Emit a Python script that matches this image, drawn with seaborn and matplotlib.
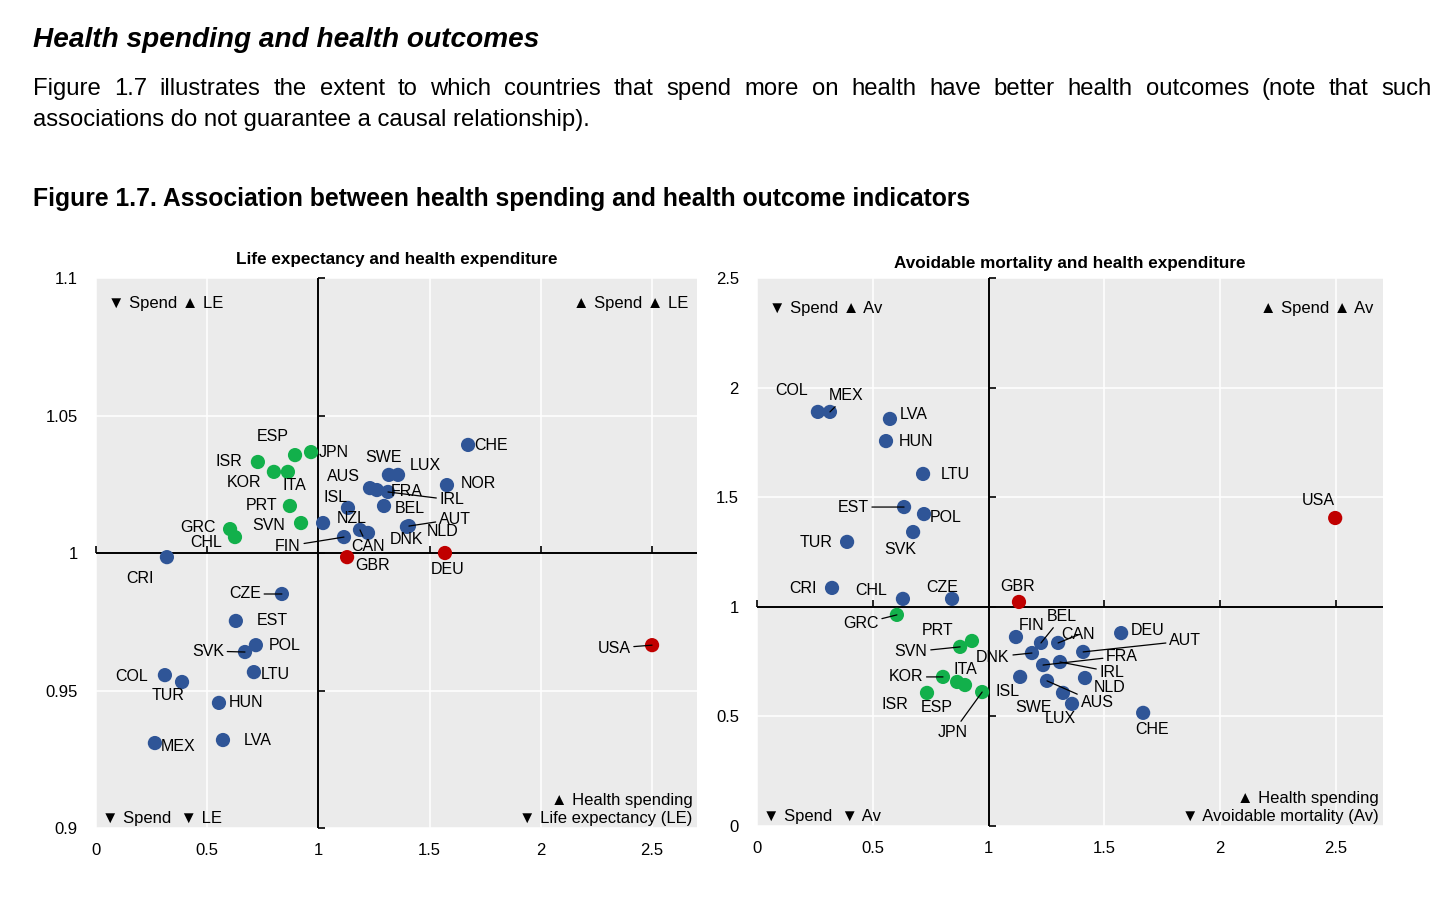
import numpy as np
import pandas as pd
import matplotlib.pyplot as plt
import seaborn as sns

# ---- data (index, OECD average = 1) ----

# panel 1: life expectancy vs health spending
le_country = ["ESP", "JPN", "ISR", "KOR", "ITA", "PRT", "SVN", "GRC", "CHL",
              "CHE", "SWE", "LUX", "NOR", "AUS", "FRA", "IRL", "ISL", "BEL",
              "NZL", "FIN", "CAN", "DNK", "AUT", "NLD", "GBR", "DEU", "CRI",
              "CZE", "EST", "POL", "SVK", "LTU", "COL", "TUR", "HUN", "LVA",
              "MEX", "USA"]
le_spend = [0.895, 0.967, 0.728, 0.800, 0.863, 0.872, 0.922, 0.603, 0.625,
            1.673, 1.317, 1.358, 1.578, 1.232, 1.263, 1.313, 1.133, 1.295,
            1.021, 1.115, 1.187, 1.223, 1.407, 1.398, 1.129, 1.569, 0.319,
            0.836, 0.629, 0.719, 0.670, 0.710, 0.310, 0.387, 0.553, 0.571,
            0.265, 2.500]
le_value = [1.0356, 1.0367, 1.0331, 1.0295, 1.0295, 1.0171, 1.0109, 1.0087,
            1.0058, 1.0393, 1.0284, 1.0284, 1.0247, 1.0236, 1.0229, 1.0222,
            1.0164, 1.0171, 1.0109, 1.0058, 1.0084, 1.0073, 1.0098, 1.0095,
            0.9985, 1.0000, 0.9985, 0.9851, 0.9753, 0.9665, 0.9640, 0.9567,
            0.9556, 0.9531, 0.9455, 0.9320, 0.9309, 0.9665]
le_group = ["good"] * 9 + ["base"] * 15 + ["key", "key"] + ["base"] * 11 + ["key"]

# panel 2: avoidable mortality vs health spending
av_country = ["COL", "MEX", "LVA", "HUN", "LTU", "EST", "POL", "SVK", "TUR",
              "CRI", "CHL", "CZE", "GBR", "USA", "GRC", "PRT", "SVN", "KOR",
              "ITA", "ESP", "ISR", "JPN", "FIN", "BEL", "CAN", "DEU", "DNK",
              "AUT", "IRL", "FRA", "NLD", "ISL", "AUS", "SWE", "LUX", "CHE"]
av_spend = [0.263, 0.315, 0.574, 0.557, 0.717, 0.635, 0.721, 0.674, 0.389,
            0.324, 0.630, 0.842, 1.131, 2.496, 0.604, 0.928, 0.877, 0.803,
            0.864, 0.898, 0.734, 0.972, 1.118, 1.226, 1.300, 1.572, 1.187,
            1.408, 1.308, 1.235, 1.416, 1.136, 1.252, 1.321, 1.360, 1.667]
av_value = [1.889, 1.889, 1.857, 1.756, 1.606, 1.455, 1.423, 1.341, 1.296,
            1.086, 1.036, 1.036, 1.022, 1.405, 0.963, 0.844, 0.817, 0.680,
            0.657, 0.643, 0.607, 0.611, 0.862, 0.835, 0.835, 0.880, 0.789,
            0.794, 0.748, 0.734, 0.675, 0.680, 0.662, 0.607, 0.557, 0.516]
av_group = ["base"] * 12 + ["key", "key"] + ["good"] * 8 + ["base"] * 14

x_ticks = [0, 0.5, 1, 1.5, 2, 2.5]
le_ticks = [0.9, 0.95, 1, 1.05, 1.1]
av_ticks = [0, 0.5, 1, 1.5, 2, 2.5]

# label placement (pixel offsets from the point) and which labels get a leader line
le_offsets = {"ESP": (-22, 19), "JPN": (23, 0), "ISR": (-29, 0), "KOR": (-30, -11),
              "ITA": (6, -14), "PRT": (-28, 0), "SVN": (-32, -2), "GRC": (-32, 2),
              "CHL": (-29, -5), "CHE": (23, -1), "SWE": (-5, 17), "LUX": (27, 9),
              "NOR": (31, 2), "AUS": (-27, 12), "FRA": (30, -1), "IRL": (64, -8),
              "ISL": (-12, 10), "BEL": (26, -3), "NZL": (29, 5), "FIN": (-56, -9),
              "CAN": (8, -17), "DNK": (39, -7), "AUT": (46, 7), "NLD": (36, -5),
              "GBR": (25, -8), "DEU": (3, -16), "CRI": (-27, -21), "CZE": (-37, 0),
              "EST": (36, 0), "POL": (29, 0), "SVK": (-37, 1), "LTU": (21, -2),
              "COL": (-33, -1), "TUR": (-14, -13), "HUN": (27, 0), "LVA": (35, 0),
              "MEX": (23, -3), "USA": (-38, -3)}
le_leaders = ["IRL", "FIN", "CAN", "AUT", "CZE", "SVK", "USA"]

av_offsets = {"COL": (-26, 21), "MEX": (16, 16), "LVA": (24, 4), "HUN": (30, 0),
              "LTU": (32, -1), "EST": (-51, 0), "POL": (22, -3), "SVK": (-13, -17),
              "TUR": (-31, -1), "CRI": (-29, -1), "CHL": (-32, 8), "CZE": (-10, 11),
              "GBR": (-1, 15), "USA": (-17, 18), "GRC": (-36, -9), "PRT": (-34, 10),
              "SVN": (-49, -5), "KOR": (-37, 0), "ITA": (8, 12), "ESP": (-28, -22),
              "ISR": (-32, -12), "JPN": (-29, -40), "FIN": (16, 12), "BEL": (21, 26),
              "CAN": (20, 8), "DEU": (26, 3), "DNK": (-39, -4), "AUT": (102, 11),
              "IRL": (52, -10), "FRA": (79, 9), "NLD": (25, -9), "ISL": (-13, -15),
              "AUS": (50, -22), "SWE": (-29, -15), "LUX": (-12, -15), "CHE": (9, -17)}
av_leaders = ["MEX", "EST", "GRC", "SVN", "KOR", "JPN", "BEL", "CAN", "DNK",
              "AUT", "IRL", "FRA", "AUS"]

palette = {"base": "#2F5597", "good": "#12B04B", "key": "#C00000"}

sns.set_theme(style="darkgrid", rc={"axes.facecolor": "#EBEBEB",
                                    "grid.color": "white", "grid.linewidth": 1.1,
                                    "text.color": "black", "xtick.color": "black",
                                    "ytick.color": "black", "axes.labelcolor": "black"})
NARROW = ["Liberation Sans Narrow", "Liberation Sans", "DejaVu Sans"]
ARIAL = ["Liberation Sans", "DejaVu Sans"]
plt.rcParams["font.family"] = NARROW

fig = plt.figure(figsize=(14.56, 9.02), dpi=100)
ax1 = fig.add_axes([0.0659, 0.0820, 0.4128, 0.6098])
ax2 = fig.add_axes([0.5199, 0.0843, 0.4299, 0.6075])


def draw_panel(ax, df, yticks, ylim, ylabels, offsets, leaders, title, title_pad,
               top_y, corners):
    ax.set_xlim(0, 2.702)
    ax.set_ylim(*ylim)
    ax.set_xticks(x_ticks)
    ax.set_xticklabels([f"{t:g}" for t in x_ticks])
    ax.set_yticks(yticks)
    ax.set_yticklabels(ylabels)
    for s in ax.spines.values():
        s.set_visible(False)
    ax.tick_params(length=0, labelsize=12, colors="black")
    ax.tick_params(axis="y", pad=13)
    ax.tick_params(axis="x", pad=11)
    ax.set_axisbelow(True)

    # quadrant cross at the OECD average, with small ticks on it
    ax.axhline(1, color="black", lw=1.4, zorder=2)
    ax.axvline(1, color="black", lw=1.4, zorder=2)
    ax.plot(ax.get_xticks(), np.ones(len(x_ticks)), ls="none", marker=2,
            ms=5, mew=1.2, color="black", clip_on=False, zorder=2)
    ax.plot(np.ones(len(yticks)), ax.get_yticks(), ls="none", marker=1,
            ms=5, mew=1.2, color="black", clip_on=False, zorder=2)

    sns.scatterplot(data=df, x="spend", y="outcome", hue="group", palette=palette,
                    s=105, linewidth=0, legend=False, ax=ax, zorder=3)
    ax.set_xlabel("")
    ax.set_ylabel("")

    for c, x, y in zip(df["country"], df["spend"], df["outcome"]):
        dx, dy = offsets[c]
        arrow = None
        if c in leaders:
            arrow = dict(arrowstyle="-", color="black", lw=0.9, shrinkA=0, shrinkB=0)
        ax.annotate(c, (x, y), xytext=(dx, dy), textcoords="offset pixels",
                    ha="center", va="center", fontsize=11.5, arrowprops=arrow, zorder=4)

    ax.set_title(title, fontsize=12.3, fontweight="bold", pad=title_pad)
    tl, tr, bl, br = corners
    ax.text(0.02, top_y, tl, transform=ax.transAxes, fontsize=12, ha="left", va="center")
    ax.text(0.985, top_y, tr, transform=ax.transAxes, fontsize=12, ha="right", va="center")
    ax.text(0.01, 0.004, bl, transform=ax.transAxes, fontsize=12, ha="left", va="bottom")
    ax.text(0.993, 0.004, br, transform=ax.transAxes, fontsize=12, ha="right",
            va="bottom", linespacing=1.25)


le_df = pd.DataFrame({"country": le_country, "spend": le_spend,
                      "outcome": le_value, "group": le_group})
av_df = pd.DataFrame({"country": av_country, "spend": av_spend,
                      "outcome": av_value, "group": av_group})

draw_panel(ax1, le_df, le_ticks, (0.9, 1.1), ["0.9", "0.95", "1", "1.05", "1.1"],
           le_offsets, le_leaders, "Life expectancy and health expenditure", 10, 0.953,
           ["▼ Spend ▲ LE", "▲ Spend ▲ LE", "▼ Spend  ▼ LE",
            "▲ Health spending\n▼ Life expectancy (LE)"])
draw_panel(ax2, av_df, av_ticks, (0, 2.5), ["0", "0.5", "1", "1.5", "2", "2.5"],
           av_offsets, av_leaders, "Avoidable mortality and health expenditure", 7, 0.945,
           ["▼ Spend ▲ Av", "▲ Spend ▲ Av", "▼ Spend  ▼ Av",
            "▲ Health spending\n▼ Avoidable mortality (Av)"])

# ---- text above the figure ----
fig.text(33 / 1456, 1 - 47 / 902, "Health spending and health outcomes",
         family=ARIAL, fontsize=20.2, fontweight="bold", style="italic", va="baseline")

line1 = ("Figure 1.7 illustrates the extent to which countries that spend more on "
         "health have better health outcomes (note that such").split()
words = [fig.text(0, 1 - 95 / 902, w, family=ARIAL, fontsize=17.2, va="baseline")
         for w in line1]
renderer = fig.canvas.get_renderer()
widths = [t.get_window_extent(renderer).width for t in words]
gap = (1432 - 33 - sum(widths)) / (len(words) - 1)
xpos = 33.0
for t, w in zip(words, widths):
    t.set_x(xpos / 1456)
    xpos += w + gap
fig.text(33 / 1456, 1 - 126 / 902, "associations do not guarantee a causal relationship).",
         family=ARIAL, fontsize=17.2, va="baseline")

fig.text(33 / 1456, 1 - 199 / 902,
         "Figure 1.7. Association between health spending and health outcome indicators",
         fontsize=17.8, fontweight="bold", va="center")

fig.savefig("out.png", dpi=100)
